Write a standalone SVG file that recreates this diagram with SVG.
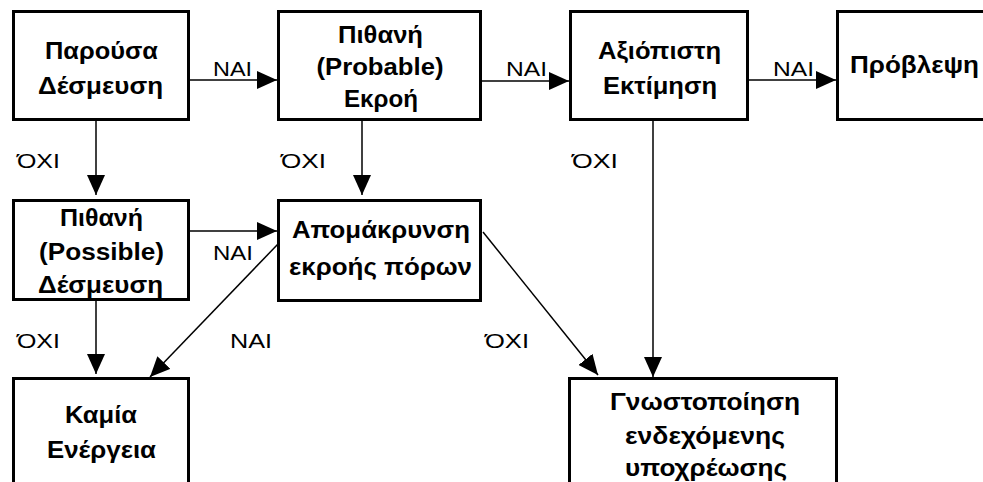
<svg xmlns="http://www.w3.org/2000/svg" width="983" height="482" viewBox="0 0 983 482">
<defs>
<marker id="ah" markerUnits="userSpaceOnUse" markerWidth="20" markerHeight="18" refX="20" refY="9" orient="auto">
<path d="M0,0 L20,9 L0,18 z" fill="#000"/>
</marker>
<style>
.box{fill:#fff;stroke:#000;stroke-width:3}
.t{font-family:"Liberation Sans",Arial,sans-serif;font-weight:bold;font-size:23px;fill:#000;text-anchor:middle}
.l{font-family:"Liberation Sans",Arial,sans-serif;font-size:21px;fill:#000}
.c{fill:none;stroke:#000;stroke-width:1.5;marker-end:url(#ah)}
</style>
</defs>
<rect width="983" height="482" fill="#fff"/>
<g id="connectors">
<path class="c" d="M190,80 L277,80"/>
<path class="c" d="M482,81 L569,81"/>
<path class="c" d="M749,80 L836,80"/>
<path class="c" d="M96,121 L96,195"/>
<path class="c" d="M362,121 L362,195"/>
<path class="c" d="M190,231 L277,231"/>
<path class="c" d="M96,301 L96,374"/>
<path class="c" d="M278,244 L150,377"/>
<path class="c" d="M483,232 L598,375"/>
<path class="c" d="M653,121 L653,377"/>
</g>
<g id="labels">
<text class="l" x="213" y="76" textLength="39" lengthAdjust="spacingAndGlyphs">NAI</text>
<text class="l" x="506" y="76" textLength="41" lengthAdjust="spacingAndGlyphs">NAI</text>
<text class="l" x="773" y="76" textLength="41" lengthAdjust="spacingAndGlyphs">NAI</text>
<text class="l" x="17" y="168" textLength="43" lengthAdjust="spacingAndGlyphs">ΌΧΙ</text>
<text class="l" x="281" y="168" textLength="45" lengthAdjust="spacingAndGlyphs">ΌΧΙ</text>
<text class="l" x="572" y="168" textLength="46" lengthAdjust="spacingAndGlyphs">ΌΧΙ</text>
<text class="l" x="213" y="260" textLength="40" lengthAdjust="spacingAndGlyphs">NAI</text>
<text class="l" x="17" y="348" textLength="43" lengthAdjust="spacingAndGlyphs">ΌΧΙ</text>
<text class="l" x="230" y="348" textLength="42" lengthAdjust="spacingAndGlyphs">NAI</text>
<text class="l" x="485" y="348" textLength="44" lengthAdjust="spacingAndGlyphs">ΌΧΙ</text>
</g>
<g id="n1">
<rect class="box" x="13.5" y="11.5" width="175" height="108"/>
<text class="t" x="101.5" y="59" textLength="113" lengthAdjust="spacingAndGlyphs">Παρούσα</text>
<text class="t" x="100.5" y="94" textLength="125" lengthAdjust="spacingAndGlyphs">Δέσμευση</text>
</g>
<g id="n2">
<rect class="box" x="278.5" y="11.5" width="202" height="108"/>
<text class="t" x="380.5" y="43" textLength="85" lengthAdjust="spacingAndGlyphs">Πιθανή</text>
<text class="t" x="380" y="75" textLength="127" lengthAdjust="spacingAndGlyphs">(Probable)</text>
<text class="t" x="381" y="107" textLength="74" lengthAdjust="spacingAndGlyphs">Εκροή</text>
</g>
<g id="n3">
<rect class="box" x="570.5" y="11.5" width="177" height="108"/>
<text class="t" x="659.5" y="59" textLength="123" lengthAdjust="spacingAndGlyphs">Αξιόπιστη</text>
<text class="t" x="660" y="94" textLength="114" lengthAdjust="spacingAndGlyphs">Εκτίμηση</text>
</g>
<g id="n4">
<rect class="box" x="837.5" y="11.5" width="160" height="108"/>
<text class="t" x="914.5" y="73" textLength="129" lengthAdjust="spacingAndGlyphs">Πρόβλεψη</text>
</g>
<g id="n5">
<rect class="box" x="13.5" y="200.5" width="175" height="99"/>
<text class="t" x="101.5" y="226" textLength="83" lengthAdjust="spacingAndGlyphs">Πιθανή</text>
<text class="t" x="101.5" y="260" textLength="125" lengthAdjust="spacingAndGlyphs">(Possible)</text>
<text class="t" x="100.5" y="293" textLength="125" lengthAdjust="spacingAndGlyphs">Δέσμευση</text>
</g>
<g id="n6">
<rect class="box" x="278.5" y="200.5" width="202" height="100"/>
<text class="t" x="381" y="238" textLength="178" lengthAdjust="spacingAndGlyphs">Απομάκρυνση</text>
<text class="t" x="380.5" y="275" textLength="183" lengthAdjust="spacingAndGlyphs">εκροής πόρων</text>
</g>
<g id="n7">
<rect class="box" x="13.5" y="378.5" width="175" height="120"/>
<text class="t" x="101" y="423" textLength="72" lengthAdjust="spacingAndGlyphs">Καμία</text>
<text class="t" x="101.5" y="458" textLength="109" lengthAdjust="spacingAndGlyphs">Ενέργεια</text>
</g>
<g id="n8">
<rect class="box" x="569.5" y="378.5" width="267" height="120"/>
<text class="t" x="705" y="410" textLength="190" lengthAdjust="spacingAndGlyphs">Γνωστοποίηση</text>
<text class="t" x="705" y="444" textLength="160" lengthAdjust="spacingAndGlyphs">ενδεχόμενης</text>
<text class="t" x="706" y="476" textLength="162" lengthAdjust="spacingAndGlyphs">υποχρέωσης</text>
</g>
</svg>
